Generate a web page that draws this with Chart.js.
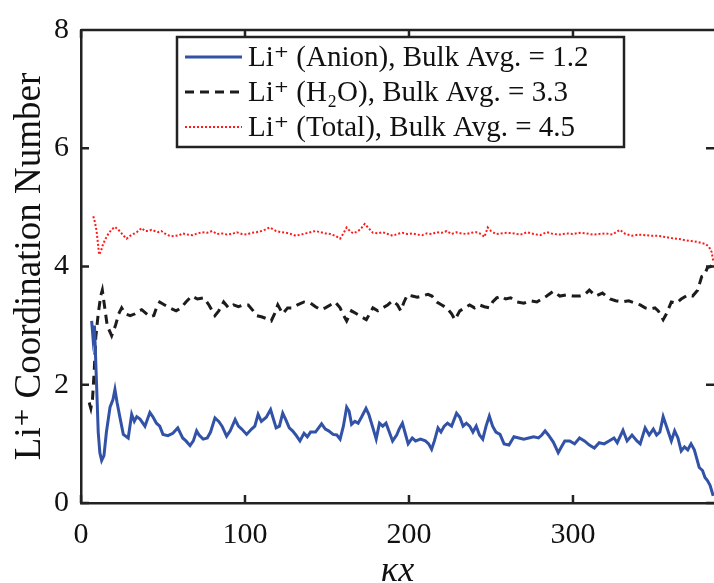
<!DOCTYPE html>
<html>
<head>
<meta charset="utf-8">
<script src="https://cdn.jsdelivr.net/npm/chart.js@4/dist/chart.umd.min.js"></script>
<style>
  html, body { margin: 0; padding: 0; background: #fff; }
  #wrap { width: 714px; height: 583px; position: relative; }
</style>
</head>
<body>
<div id="wrap"><canvas id="chart"></canvas></div>
<script>
// Li+ (Anion)
const anionX = [6.5, 7.3, 8.2, 9.5, 10.5, 11.5, 12.6, 14, 15.5, 17.7, 19.5, 20.7, 22, 23.8, 25.8, 28.8, 30.9, 32.5, 34, 36, 39, 42, 44, 46, 48, 50, 53, 56, 59, 62, 64, 66.5, 68.5, 70.5, 72, 74.5, 77, 79, 81.7, 84, 86, 88.8, 91, 94, 96, 98, 101, 104, 106, 108, 110, 113, 115.6, 117, 119, 121, 123, 125, 127, 129, 131, 133.5, 136, 138, 140, 143, 146.7, 149, 151, 153.7, 156, 158, 160, 162, 163.5, 165, 167, 169, 171, 173.8, 175.5, 178, 180, 182, 184, 186, 188, 190, 192.5, 194, 196, 198, 199.5, 202, 204, 207, 210, 212, 213.8, 215.5, 217.7, 219.5, 221.5, 223.5, 226, 229, 231, 233, 235, 237, 239, 241, 243, 245, 247, 249, 251, 253, 255.5, 258, 261, 264, 267, 270, 273, 276, 279, 281, 283, 285, 288, 291, 293, 295, 298, 301, 304, 307, 310, 313, 316, 319, 322, 325, 327, 330.5, 333, 336, 339, 341, 344, 346.5, 349, 351, 353, 355, 357, 360, 362, 364, 366, 368, 370, 372, 374, 377, 379, 380.5, 382, 383.6, 385.5];
const anionY = [3.08, 2.8, 3.0, 2.0, 1.2, 0.85, 0.72, 0.8, 1.2, 1.62, 1.75, 1.92, 1.7, 1.44, 1.16, 1.1, 1.5, 1.38, 1.46, 1.42, 1.3, 1.53, 1.45, 1.35, 1.3, 1.16, 1.14, 1.18, 1.27, 1.1, 1.05, 0.97, 1.05, 1.22, 1.15, 1.08, 1.1, 1.2, 1.44, 1.38, 1.3, 1.13, 1.22, 1.41, 1.3, 1.25, 1.16, 1.25, 1.3, 1.5, 1.38, 1.45, 1.58, 1.45, 1.27, 1.3, 1.52, 1.4, 1.27, 1.22, 1.15, 1.05, 1.18, 1.12, 1.2, 1.2, 1.34, 1.25, 1.22, 1.16, 1.15, 1.08, 1.3, 1.62, 1.55, 1.33, 1.38, 1.35, 1.45, 1.6, 1.5, 1.27, 1.08, 1.35, 1.3, 1.35, 1.2, 1.05, 1.15, 1.25, 1.35, 1.15, 1.0, 1.1, 1.05, 1.08, 1.05, 1.0, 0.91, 1.05, 1.27, 1.2, 1.3, 1.35, 1.3, 1.52, 1.45, 1.3, 1.35, 1.3, 1.2, 1.3, 1.15, 1.08, 1.3, 1.47, 1.3, 1.2, 1.16, 1.0, 0.98, 1.12, 1.1, 1.08, 1.1, 1.12, 1.1, 1.15, 1.22, 1.15, 1.03, 0.85, 0.95, 1.05, 1.05, 1.0, 1.1, 1.05, 0.98, 0.93, 1.02, 1.0, 1.05, 1.1, 1.02, 1.23, 1.05, 1.15, 1.05, 1.0, 1.27, 1.15, 1.25, 1.15, 1.2, 1.46, 1.3, 1.05, 1.22, 1.1, 0.88, 0.95, 0.9, 1.0, 0.9, 0.6, 0.55, 0.43, 0.38, 0.3, 0.12];

// Li+ (H2O)
const waterX = [5, 6, 7, 8, 9, 10.5, 12, 13, 14.5, 16, 18.7, 21, 23, 24.8, 27, 30, 33, 35, 37, 40, 42, 44.4, 46, 48, 51, 54, 58, 61, 64, 67.5, 71, 75, 78, 81.7, 84, 87, 90, 93, 96, 99, 102, 105, 107, 110, 113, 116, 118, 120, 123, 126, 129, 132, 136, 140, 143, 146, 149, 152, 155, 158, 160, 162, 165, 168, 171, 174, 176, 178, 181, 184, 187, 190, 193, 195, 197, 199, 202, 205, 208, 211.6, 214, 217, 220, 223, 226, 228, 231, 234, 237, 240, 243, 246, 249, 251, 253.5, 256, 259, 262, 266, 270, 274, 278, 281, 284, 288, 292, 296, 300, 304, 307, 310, 314, 318, 322.6, 326, 330, 334, 338, 341, 344, 347, 350, 352, 355, 357, 360, 363, 366, 370, 373, 376, 378.5, 380, 382, 384, 385.5];
const waterY = [1.7, 1.6, 1.75, 2.2, 2.8, 3.2, 3.5, 3.6, 3.3, 3.0, 2.83, 3.0, 3.2, 3.3, 3.2, 3.17, 3.2, 3.25, 3.27, 3.2, 3.15, 3.17, 3.3, 3.4, 3.35, 3.3, 3.25, 3.3, 3.4, 3.5, 3.45, 3.47, 3.35, 3.17, 3.25, 3.4, 3.3, 3.35, 3.32, 3.35, 3.35, 3.25, 3.17, 3.15, 3.12, 3.08, 3.2, 3.35, 3.2, 3.3, 3.3, 3.35, 3.4, 3.38, 3.32, 3.27, 3.3, 3.35, 3.4, 3.3, 3.18, 3.08, 3.25, 3.2, 3.15, 3.1, 3.2, 3.3, 3.25, 3.3, 3.35, 3.42, 3.35, 3.25, 3.4, 3.52, 3.5, 3.48, 3.5, 3.53, 3.5, 3.4, 3.35, 3.3, 3.2, 3.1, 3.25, 3.3, 3.35, 3.3, 3.35, 3.32, 3.3, 3.4, 3.47, 3.5, 3.45, 3.47, 3.4, 3.38, 3.42, 3.4, 3.45, 3.5, 3.58, 3.5, 3.52, 3.5, 3.5, 3.52, 3.6, 3.5, 3.55, 3.45, 3.42, 3.4, 3.42, 3.38, 3.35, 3.3, 3.28, 3.3, 3.25, 3.1, 3.2, 3.4, 3.38, 3.45, 3.52, 3.5, 3.6, 3.83, 3.85, 3.98, 4.0, 4.08];

// Li+ (Total)
const totalX = [7.5, 8.5, 9.5, 10.5, 11, 12, 13.5, 15, 16.6, 18.5, 20.7, 22.5, 24.5, 26, 27.8, 30, 32, 34, 37, 39, 41, 43, 45, 47, 49, 51, 53, 55, 58, 60, 62, 65, 68, 71, 74, 77, 80, 83, 86, 89, 92, 95, 98, 101, 104, 107, 110, 112, 115, 117, 119, 122, 125, 128, 131, 134, 137, 140, 143, 146, 149, 152, 155, 158, 160, 162, 164, 166, 169, 171, 173, 175, 178, 181, 184, 187, 190, 193, 196, 199, 202, 205, 208, 211, 214, 217, 220, 223, 226, 229, 232, 235, 238, 241, 244, 246, 248, 250, 253, 256, 260, 264, 268, 272, 276, 280, 284, 288, 292, 296, 300, 304, 308, 312, 316, 320, 324, 328.6, 332, 336, 340, 344, 348, 352, 356, 360, 363, 366, 369, 372, 375, 378, 381, 383, 384.5, 385.5];
const totalY = [4.85, 4.75, 4.6, 4.35, 4.2, 4.25, 4.38, 4.47, 4.55, 4.62, 4.67, 4.63, 4.57, 4.52, 4.47, 4.52, 4.55, 4.58, 4.65, 4.6, 4.6, 4.62, 4.6, 4.58, 4.6, 4.56, 4.53, 4.51, 4.52, 4.53, 4.56, 4.54, 4.53, 4.56, 4.58, 4.57, 4.6, 4.55, 4.56, 4.54, 4.55, 4.58, 4.55, 4.54, 4.57, 4.58, 4.6, 4.62, 4.66, 4.63, 4.6, 4.58, 4.57, 4.55, 4.52, 4.54, 4.56, 4.58, 4.6, 4.58, 4.56, 4.55, 4.52, 4.47, 4.56, 4.66, 4.6, 4.56, 4.6, 4.65, 4.72, 4.66, 4.57, 4.56, 4.58, 4.55, 4.52, 4.55, 4.57, 4.55, 4.56, 4.54, 4.53, 4.56, 4.55, 4.58, 4.57, 4.6, 4.55, 4.58, 4.56, 4.55, 4.57, 4.58, 4.55, 4.5, 4.66, 4.6, 4.55, 4.56, 4.57, 4.56, 4.54, 4.58, 4.55, 4.53, 4.58, 4.55, 4.54, 4.56, 4.55, 4.57, 4.56, 4.54, 4.55, 4.56, 4.54, 4.62, 4.55, 4.52, 4.54, 4.53, 4.52, 4.52, 4.5, 4.48, 4.47, 4.46, 4.44, 4.43, 4.42, 4.4, 4.38, 4.33, 4.25, 4.1];

const xTicks = [0, 100, 200, 300];
const yTicks = [0, 2, 4, 6, 8];
const seriesLabels = [
  'Li\u207A (Anion), Bulk Avg. = 1.2',
  'Li\u207A (H\u2082O), Bulk Avg. = 3.3',
  'Li\u207A (Total), Bulk Avg. = 4.5'
];

const SERIF = '"Liberation Serif", "DejaVu Serif", serif';
const AXIS = '#222';

function toPoints(xs, ys) {
  return xs.map((x, i) => ({ x: x, y: ys[i] }));
}

// inward ticks on all four sides + top border line
const boxTicks = {
  id: 'boxTicks',
  afterDraw(chart) {
    const { ctx, chartArea: a, scales } = chart;
    ctx.save();
    ctx.strokeStyle = AXIS;
    ctx.lineWidth = 2.5;
    ctx.beginPath();
    ctx.moveTo(a.left, a.top);
    ctx.lineTo(a.right, a.top);
    xTicks.forEach(v => {
      const px = scales.x.getPixelForValue(v);
      ctx.moveTo(px, a.bottom);
      ctx.lineTo(px, a.bottom - 8);
      ctx.moveTo(px, a.top);
      ctx.lineTo(px, a.top + 8);
    });
    yTicks.forEach(v => {
      const py = scales.y.getPixelForValue(v);
      ctx.moveTo(a.left, py);
      ctx.lineTo(a.left + 8, py);
      ctx.moveTo(a.right, py);
      ctx.lineTo(a.right - 8, py);
    });
    ctx.stroke();
    ctx.restore();
  }
};

// framed legend like the original figure
const boxLegend = {
  id: 'boxLegend',
  afterDraw(chart) {
    const { ctx } = chart;
    const left = 177, top = 37, right = 624, bottom = 147;
    ctx.save();
    ctx.fillStyle = '#fff';
    ctx.fillRect(left, top, right - left, bottom - top);
    ctx.strokeStyle = AXIS;
    ctx.lineWidth = 2.5;
    ctx.strokeRect(left, top, right - left, bottom - top);
    ctx.font = '29px ' + SERIF;
    ctx.textBaseline = 'middle';
    chart.data.datasets.forEach((ds, i) => {
      const y = 57 + i * 35;
      ctx.strokeStyle = ds.borderColor;
      ctx.lineWidth = ds.borderWidth;
      ctx.setLineDash(ds.borderDash || []);
      ctx.beginPath();
      ctx.moveTo(185, y);
      ctx.lineTo(242, y);
      ctx.stroke();
      ctx.setLineDash([]);
      ctx.fillStyle = '#111';
      ctx.fillText(ds.label, 248, y + 1);
    });
    ctx.restore();
  }
};

new Chart(document.getElementById('chart'), {
  type: 'line',
  data: {
    datasets: [
      {
        label: seriesLabels[0],
        data: toPoints(anionX, anionY),
        borderColor: '#3152a6',
        borderWidth: 3
      },
      {
        label: seriesLabels[1],
        data: toPoints(waterX, waterY),
        borderColor: '#1c1c1c',
        borderWidth: 3,
        borderDash: [9, 6]
      },
      {
        label: seriesLabels[2],
        data: toPoints(totalX, totalY),
        borderColor: '#ff1a1a',
        borderWidth: 2,
        borderDash: [2, 2]
      }
    ]
  },
  options: {
    responsive: true,
    maintainAspectRatio: false,
    animation: false,
    elements: { point: { radius: 0 }, line: { tension: 0 } },
    layout: { padding: { top: 23, right: 0, left: 0, bottom: 0 } },
    plugins: { legend: { display: false }, tooltip: { enabled: false } },
    scales: {
      x: {
        type: 'linear',
        min: 0,
        max: 386,
        afterBuildTicks: s => { s.ticks = xTicks.map(v => ({ value: v })); },
        afterFit: s => { s.height = 80; },
        grid: { display: false, drawTicks: false },
        border: { display: true, color: AXIS, width: 2.5 },
        ticks: { font: { family: SERIF, size: 30 }, color: '#111', padding: 14, maxRotation: 0 },
        title: { display: true, text: '\u03BAx', font: { family: SERIF, size: 36, style: 'italic' }, color: '#111', padding: { top: 2, bottom: -10 } }
      },
      y: {
        min: 0,
        max: 8,
        afterBuildTicks: s => { s.ticks = yTicks.map(v => ({ value: v })); },
        afterFit: s => { s.width = 81; },
        grid: { display: false, drawTicks: false },
        border: { display: true, color: AXIS, width: 2.5 },
        ticks: { font: { family: SERIF, size: 30 }, color: '#111', padding: 12 },
        title: { display: true, text: 'Li\u207A Coordination Number', font: { family: SERIF, size: 37 }, color: '#111', padding: { top: 8, bottom: 0 } }
      }
    }
  },
  plugins: [boxTicks, boxLegend]
});
</script>
</body>
</html>
